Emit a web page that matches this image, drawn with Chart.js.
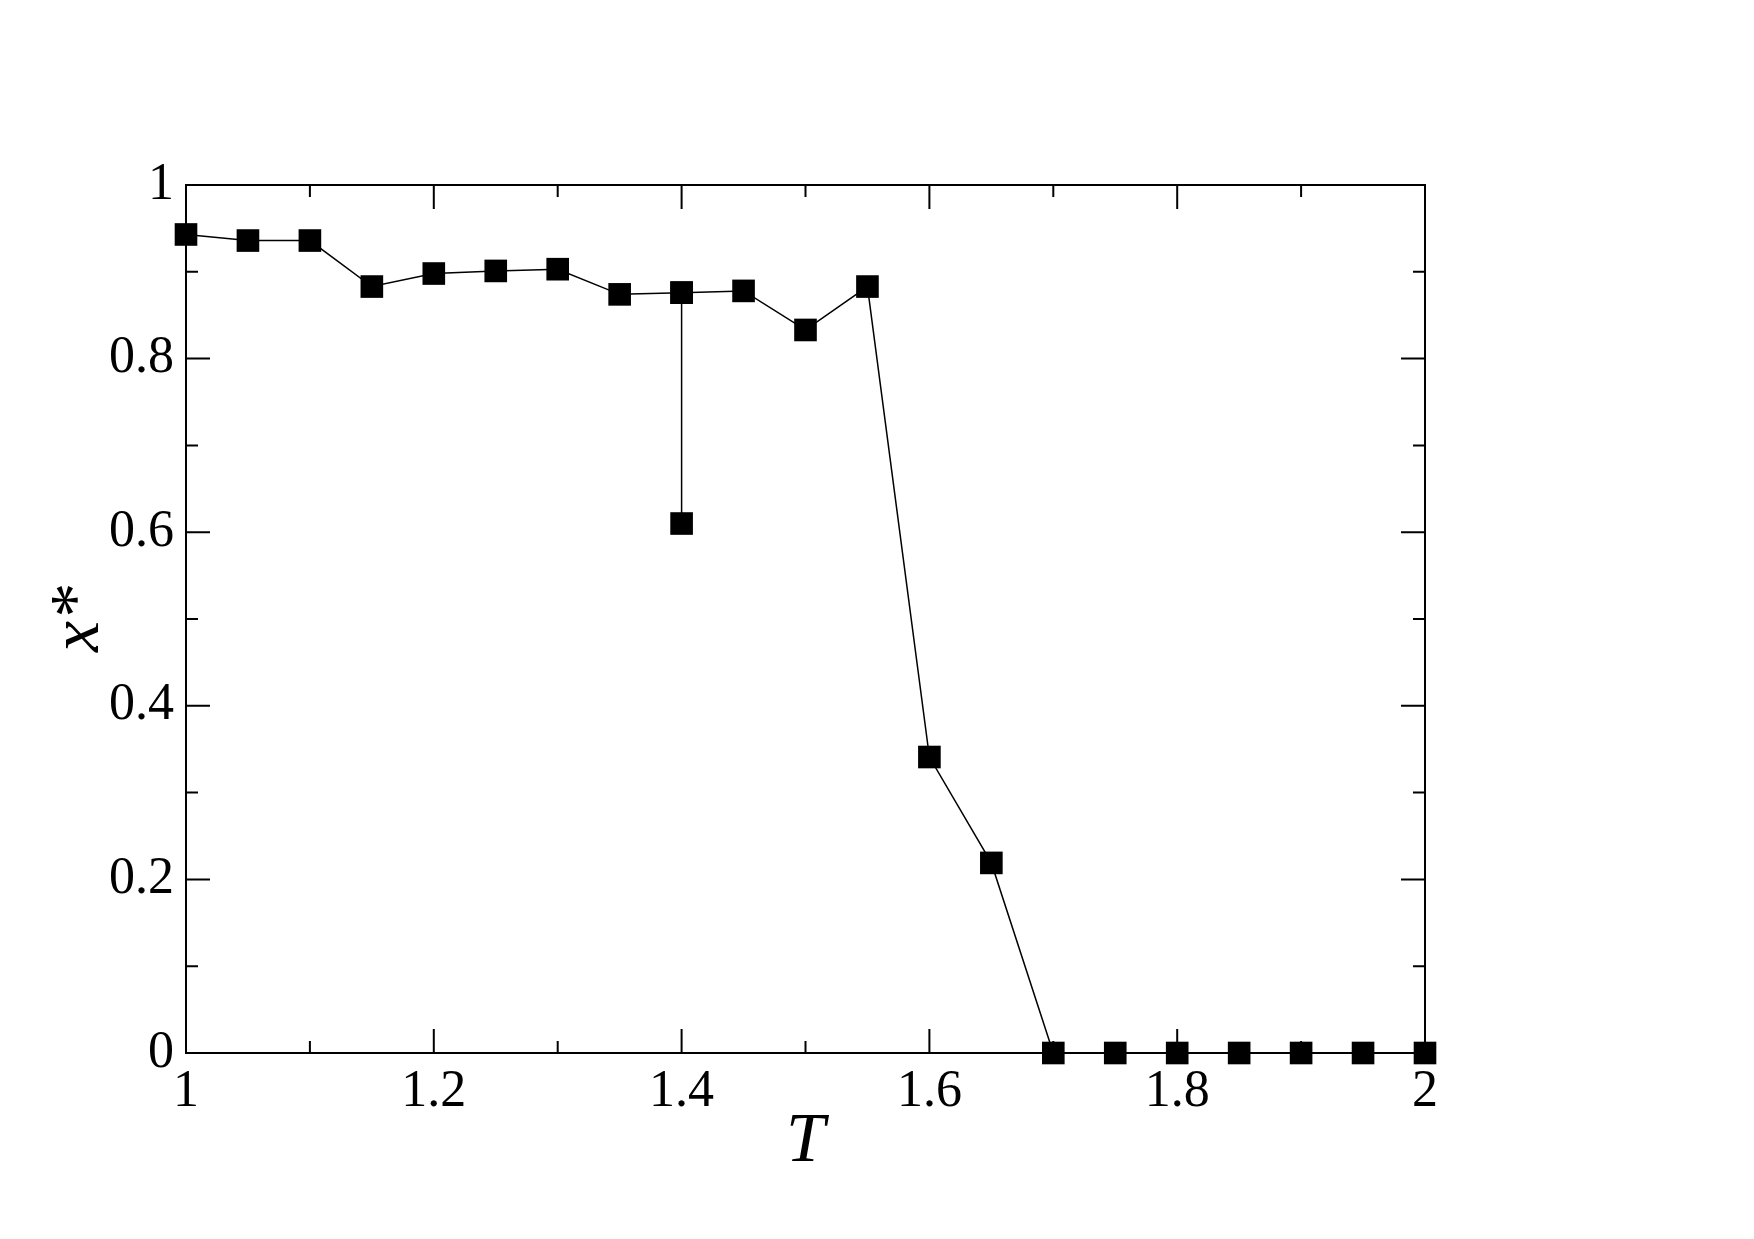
<!DOCTYPE html>
<html>
<head>
<meta charset="utf-8">
<script src="https://cdn.jsdelivr.net/npm/chart.js@4"></script>
<style>
  html, body { margin: 0; padding: 0; background: #fff; }
  #xStarChart { display: block; }
</style>
</head>
<body>
<canvas id="xStarChart" width="1754" height="1239"></canvas>
<script>
// T values and x* readings (main branch)
const temps = [1.0, 1.05, 1.1, 1.15, 1.2, 1.25, 1.3, 1.35, 1.4, 1.45, 1.5, 1.55, 1.6, 1.65, 1.7, 1.75, 1.8, 1.85, 1.9, 1.95, 2.0];
const xStar = [0.943, 0.936, 0.936, 0.883, 0.898, 0.901, 0.903, 0.874, 0.876, 0.878, 0.833, 0.883, 0.341, 0.219, 0, 0, 0, 0, 0, 0, 0];
// second run at T = 1.4 that dropped lower
const dipT = [1.4, 1.4];
const dipX = [0.876, 0.610];

const xTicks = [1, 1.2, 1.4, 1.6, 1.8, 2];
const yTicks = [0, 0.2, 0.4, 0.6, 0.8, 1];

const serif = "'Liberation Serif', 'Times New Roman', Times, serif";

const toPoints = (xs, ys) => xs.map((x, i) => ({ x: x, y: ys[i] }));

// frame + inward major/minor ticks on all four sides
const framePlugin = {
  id: "frame",
  afterDatasetsDraw(chart) {
    const { ctx, chartArea: a, scales } = chart;
    const xs = scales.x, ys = scales.y;
    ctx.save();
    ctx.strokeStyle = "#000";
    ctx.lineWidth = 2;
    ctx.strokeRect(a.left, a.top, a.right - a.left, a.bottom - a.top);
    ctx.beginPath();
    for (let i = 0; i <= 10; i++) {
      const v = 1 + i * 0.1;
      const len = i % 2 === 0 ? 24 : 12;
      const px = xs.getPixelForValue(v);
      ctx.moveTo(px, a.bottom); ctx.lineTo(px, a.bottom - len);
      ctx.moveTo(px, a.top); ctx.lineTo(px, a.top + len);
    }
    for (let i = 0; i <= 10; i++) {
      const v = i * 0.1;
      const len = i % 2 === 0 ? 24 : 12;
      const py = ys.getPixelForValue(v);
      ctx.moveTo(a.left, py); ctx.lineTo(a.left + len, py);
      ctx.moveTo(a.right, py); ctx.lineTo(a.right - len, py);
    }
    ctx.stroke();
    ctx.restore();
  }
};

new Chart(document.getElementById("xStarChart"), {
  type: "line",
  data: {
    datasets: [{
      label: "x*",
      data: toPoints(temps, xStar),
      borderColor: "#000",
      backgroundColor: "#000",
      borderWidth: 1.5,
      pointStyle: "rect",
      pointRadius: 16,
      pointBorderWidth: 0,
      pointBackgroundColor: "#000",
      tension: 0,
      clip: false
    }, {
      label: "x* (T=1.4)",
      data: toPoints(dipT, dipX),
      borderColor: "#000",
      backgroundColor: "#000",
      borderWidth: 1.5,
      pointStyle: "rect",
      pointRadius: 16,
      pointBorderWidth: 0,
      pointBackgroundColor: "#000",
      tension: 0,
      clip: false
    }]
  },
  options: {
    responsive: false,
    animation: false,
    devicePixelRatio: 1,
    layout: { padding: { left: 38, top: 185, right: 329, bottom: 54 } },
    plugins: { legend: { display: false }, tooltip: { enabled: false } },
    scales: {
      x: {
        type: "linear",
        min: 1, max: 2,
        afterBuildTicks: s => { s.ticks = xTicks.map(v => ({ value: v })); },
        afterFit: s => { s.height = 1239 - 54 - 1053; },
        grid: { display: false, drawTicks: false },
        border: { display: false },
        ticks: {
          color: "#000",
          padding: 8,
          maxRotation: 0,
          font: { family: serif, size: 52 },
          callback: v => String(v)
        },
        title: {
          display: true,
          text: "T",
          color: "#000",
          padding: { top: 0, bottom: 0 },
          font: { family: serif, size: 70, style: "italic" }
        }
      },
      y: {
        min: 0, max: 1,
        afterBuildTicks: s => { s.ticks = yTicks.map(v => ({ value: v })); },
        afterFit: s => { s.width = 186 - 38; },
        grid: { display: false, drawTicks: false },
        border: { display: false },
        ticks: {
          color: "#000",
          padding: 12,
          font: { family: serif, size: 52 },
          callback: v => String(v)
        },
        title: {
          display: true,
          text: "x*",
          color: "#000",
          padding: { top: 0, bottom: 0 },
          font: { family: serif, size: 70, style: "italic" }
        }
      }
    }
  },
  plugins: [framePlugin]
});
</script>
</body>
</html>
